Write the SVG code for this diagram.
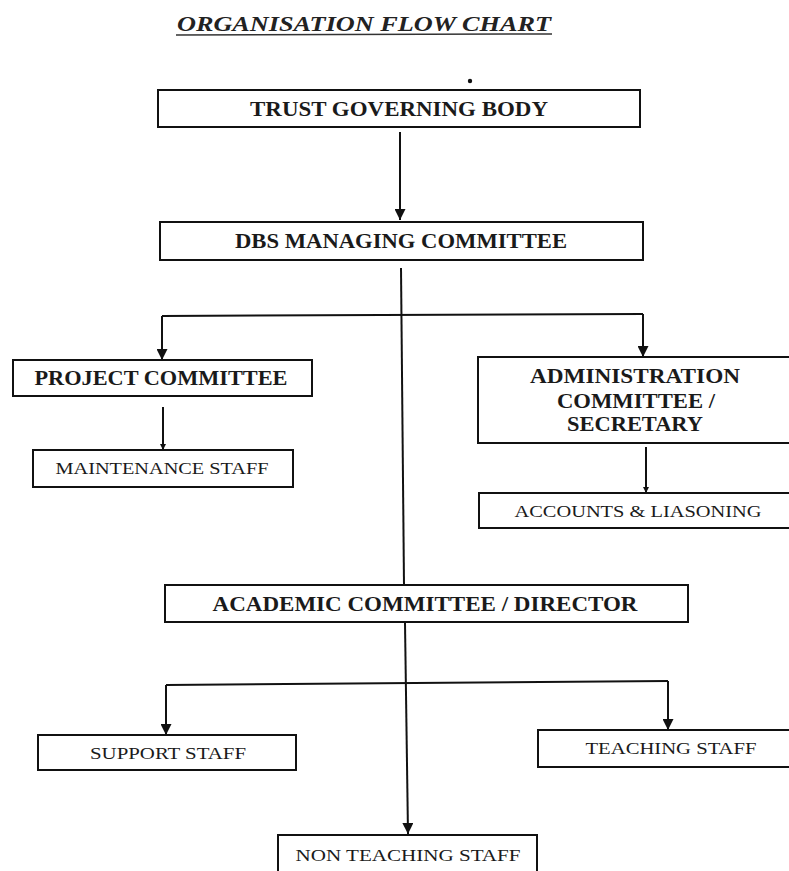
<svg xmlns="http://www.w3.org/2000/svg" width="789" height="871" viewBox="0 0 789 871">
<style>
.box{fill:#fff;stroke:#111;stroke-width:2}
.big{font-family:"Liberation Serif",serif;font-weight:bold;font-size:21px;fill:#1a1a1a;text-anchor:middle}
.small{font-family:"Liberation Serif",serif;font-size:17px;fill:#1a1a1a;text-anchor:middle}
.title{font-family:"Liberation Serif",serif;font-style:italic;font-weight:bold;font-size:21px;fill:#222;text-anchor:middle}
.ln{fill:none;stroke:#111;stroke-width:2}
</style>
<defs>
<marker id="arr" viewBox="0 0 10 10" refX="10" refY="5" markerWidth="5.5" markerHeight="5.5" orient="auto" markerUnits="strokeWidth">
<path d="M0,0 L10,5 L0,10 z" fill="#111"/>
</marker>
<marker id="tick" viewBox="0 0 10 10" refX="10" refY="5" markerWidth="3" markerHeight="4" orient="auto" markerUnits="strokeWidth">
<path d="M0,0 L10,5 L0,10 z" fill="#111"/>
</marker>
</defs>
<rect width="789" height="871" fill="#fff"/>
<g id="title">
<text class="title" x="364" y="31" textLength="374" lengthAdjust="spacingAndGlyphs">ORGANISATION FLOW CHART</text>
<line x1="176" y1="35" x2="552" y2="34" stroke="#333" stroke-width="1.5"/>
</g>
<circle cx="470" cy="81" r="2.2" fill="#111"/>
<g id="connectors">
<path class="ln" d="M400,132 L400,220" marker-end="url(#arr)"/>
<path class="ln" d="M401,268 L404,585"/>
<path class="ln" d="M162,316 L643,314"/>
<path class="ln" d="M162,316 L162,360" marker-end="url(#arr)"/>
<path class="ln" d="M643,314 L643,357" marker-end="url(#arr)"/>
<path class="ln" d="M163,407 L163,450" marker-end="url(#tick)"/>
<path class="ln" d="M646,447 L646,493" marker-end="url(#tick)"/>
<path class="ln" d="M405,623 L408,834" marker-end="url(#arr)"/>
<path class="ln" d="M166,685 L668,681"/>
<path class="ln" d="M166,685 L166,735" marker-end="url(#arr)"/>
<path class="ln" d="M668,681 L668,730" marker-end="url(#arr)"/>
</g>
<g id="trust">
<rect class="box" x="158" y="90" width="482" height="37"/>
<text class="big" x="399" y="116" textLength="298" lengthAdjust="spacingAndGlyphs">TRUST GOVERNING BODY</text>
</g>
<g id="dbs">
<rect class="box" x="160" y="222" width="483" height="38"/>
<text class="big" x="401" y="248" textLength="332" lengthAdjust="spacingAndGlyphs">DBS MANAGING COMMITTEE</text>
</g>
<g id="project">
<rect class="box" x="13" y="360" width="299" height="36"/>
<text class="big" x="161" y="385" textLength="253" lengthAdjust="spacingAndGlyphs">PROJECT COMMITTEE</text>
</g>
<g id="maintenance">
<rect class="box" x="33" y="450" width="260" height="37"/>
<text class="small" x="162" y="474" textLength="213" lengthAdjust="spacingAndGlyphs">MAINTENANCE STAFF</text>
</g>
<g id="admin">
<rect class="box" x="478" y="357" width="320" height="86"/>
<text class="big" x="635" y="383" textLength="210" lengthAdjust="spacingAndGlyphs">ADMINISTRATION</text>
<text class="big" x="636" y="408" textLength="158" lengthAdjust="spacingAndGlyphs">COMMITTEE /</text>
<text class="big" x="635" y="431" textLength="136" lengthAdjust="spacingAndGlyphs">SECRETARY</text>
</g>
<g id="accounts">
<rect class="box" x="479" y="493" width="320" height="35"/>
<text class="small" x="638" y="517" textLength="247" lengthAdjust="spacingAndGlyphs">ACCOUNTS &amp; LIASONING</text>
</g>
<g id="academic">
<rect class="box" x="165" y="585" width="523" height="37"/>
<text class="big" x="425" y="611" textLength="425" lengthAdjust="spacingAndGlyphs">ACADEMIC COMMITTEE / DIRECTOR</text>
</g>
<g id="support">
<rect class="box" x="38" y="735" width="258" height="35"/>
<text class="small" x="168" y="759" textLength="156" lengthAdjust="spacingAndGlyphs">SUPPORT STAFF</text>
</g>
<g id="teaching">
<rect class="box" x="538" y="730" width="260" height="37"/>
<text class="small" x="671" y="754" textLength="171" lengthAdjust="spacingAndGlyphs">TEACHING STAFF</text>
</g>
<g id="nonteaching">
<rect class="box" x="278" y="835" width="259" height="40"/>
<text class="small" x="408" y="861" textLength="225" lengthAdjust="spacingAndGlyphs">NON TEACHING STAFF</text>
</g>
</svg>
